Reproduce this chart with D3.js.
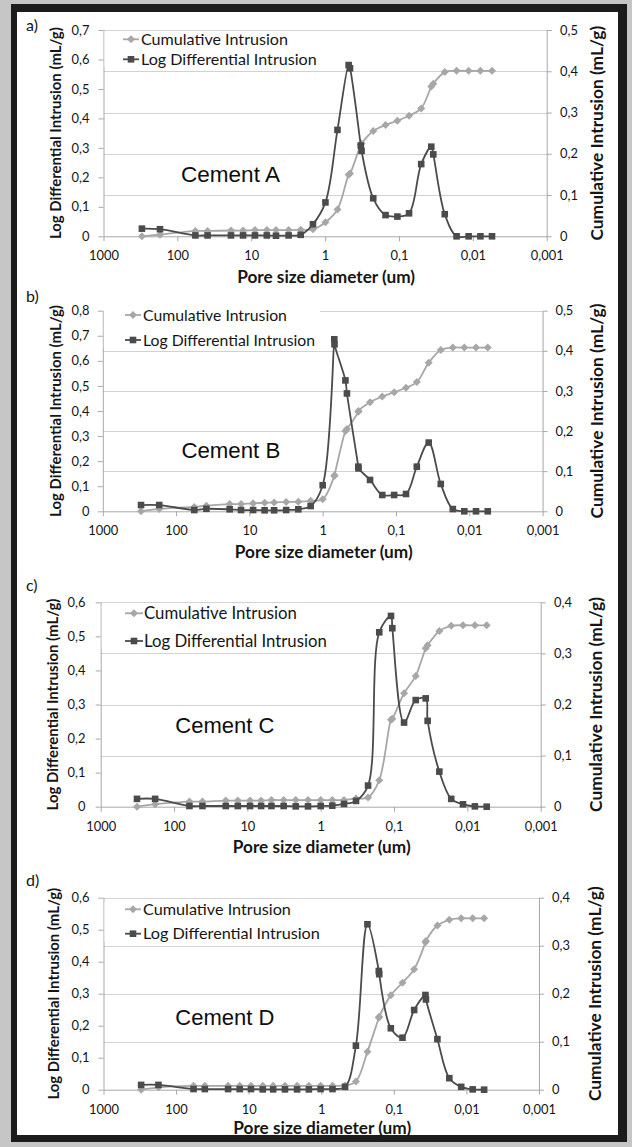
<!DOCTYPE html>
<html><head><meta charset="utf-8">
<script src="https://cdn.jsdelivr.net/npm/d3@7"></script>
<style>html,body{margin:0;padding:0;background:#c6c6c6;} svg{display:block}</style>
</head><body><svg id="c" width="632" height="1147"></svg>
<script>
// ---------- data ----------
const xTickValues = [1000, 100, 10, 1, 0.1, 0.01, 0.001];
const xTickLabels = ["1000", "100", "10", "1", "0,1", "0,01", "0,001"];
const seriesNames = ["Cumulative Intrusion", "Log Differential Intrusion"];
const panelLetters = ["a)", "b)", "c)", "d)"];
const panelTitles = ["Cement A", "Cement B", "Cement C", "Cement D"];
const xAxisTitle = "Pore size diameter (um)";
const leftAxisTitle = "Log Differential Intrusion (mL/g)";
const rightAxisTitle = "Cumulative Intrusion (mL/g)";

const leftTicksA = [0, 0.1, 0.2, 0.3, 0.4, 0.5, 0.6, 0.7];
const rightTicksA = [0, 0.1, 0.2, 0.3, 0.4, 0.5];
const leftTicksB = [0, 0.1, 0.2, 0.3, 0.4, 0.5, 0.6, 0.7, 0.8];
const rightTicksB = [0, 0.1, 0.2, 0.3, 0.4, 0.5];
const leftTicksC = [0, 0.1, 0.2, 0.3, 0.4, 0.5, 0.6];
const rightTicksC = [0, 0.1, 0.2, 0.3, 0.4];
const leftTicksD = [0, 0.1, 0.2, 0.3, 0.4, 0.5, 0.6];
const rightTicksD = [0, 0.1, 0.2, 0.3, 0.4];

// pore size (um), cumulative intrusion (mL/g), log differential intrusion (mL/g)
const poreA = [302, 172, 57, 39, 18.8, 12.9, 8.9, 6.15, 4.62, 3.12, 2.14, 1.46, 0.99, 0.68, 0.48, 0.46, 0.329, 0.321, 0.223, 0.152, 0.105, 0.073, 0.050, 0.0365, 0.0343, 0.024, 0.0166, 0.0114, 0.0079, 0.0055];
const cumA = [0, 0.004, 0.013, 0.013, 0.014, 0.014, 0.015, 0.015, 0.015, 0.015, 0.016, 0.017, 0.034, 0.065, 0.149, 0.152, 0.222, 0.225, 0.255, 0.27, 0.28, 0.292, 0.31, 0.363, 0.37, 0.398, 0.401, 0.401, 0.401, 0.401];
const ldiA = [0.026, 0.024, 0.003, 0.003, 0.003, 0.003, 0.003, 0.003, 0.002, 0.003, 0.005, 0.041, 0.115, 0.361, 0.581, 0.570, 0.308, 0.29, 0.129, 0.072, 0.067, 0.078, 0.245, 0.304, 0.278, 0.075, 0, 0, 0, 0];

const poreB = [301, 170, 56.5, 38.6, 18.6, 13, 8.9, 6.2, 4.6, 3.15, 2.15, 1.46, 1.0, 0.695, 0.69, 0.49, 0.467, 0.327, 0.325, 0.226, 0.154, 0.106, 0.073, 0.052, 0.0358, 0.0245, 0.0168, 0.0117, 0.0081, 0.0056];
const cumB = [0, 0.006, 0.011, 0.014, 0.018, 0.018, 0.02, 0.021, 0.022, 0.023, 0.024, 0.026, 0.030, 0.088, 0.09, 0.2, 0.205, 0.248, 0.25, 0.272, 0.286, 0.297, 0.308, 0.322, 0.370, 0.402, 0.408, 0.408, 0.408, 0.408];
const ldiB = [0.025, 0.025, 0.005, 0.010, 0.008, 0.005, 0.005, 0.004, 0.004, 0.005, 0.008, 0.021, 0.104, 0.686, 0.666, 0.522, 0.470, 0.178, 0.171, 0.125, 0.065, 0.065, 0.069, 0.178, 0.274, 0.109, 0.009, 0, 0, 0];

const poreC = [320, 181, 61.7, 41, 19.7, 13.5, 9.2, 6.5, 4.7, 3.2, 2.19, 1.49, 1.0, 0.695, 0.481, 0.33, 0.226, 0.159, 0.110, 0.1055, 0.073, 0.0506, 0.037, 0.0348, 0.0241, 0.0166, 0.01147, 0.0079, 0.00545];
const cumC = [0, 0.005, 0.01, 0.01, 0.012, 0.012, 0.012, 0.012, 0.013, 0.013, 0.013, 0.013, 0.013, 0.013, 0.013, 0.016, 0.018, 0.052, 0.17, 0.172, 0.222, 0.256, 0.31, 0.316, 0.344, 0.354, 0.355, 0.355, 0.355];
const ldiC = [0.023, 0.023, 0.002, 0.002, 0.002, 0.002, 0.002, 0.002, 0.002, 0.002, 0.001, 0.001, 0.002, 0.003, 0.008, 0.017, 0.062, 0.512, 0.56, 0.524, 0.247, 0.313, 0.318, 0.252, 0.103, 0.023, 0.007, 0.001, 0];

const poreD = [303, 175, 57.5, 40.2, 19.2, 13.3, 9.3, 6.4, 4.6, 3.16, 2.15, 1.48, 1.02, 0.70, 0.47, 0.333, 0.231, 0.161, 0.159, 0.110, 0.076, 0.0525, 0.0367, 0.0361, 0.0251, 0.0172, 0.0118, 0.0082, 0.0057];
const cumD = [0, 0.005, 0.008, 0.008, 0.008, 0.008, 0.008, 0.008, 0.008, 0.008, 0.008, 0.008, 0.008, 0.008, 0.009, 0.017, 0.079, 0.15, 0.152, 0.197, 0.223, 0.251, 0.307, 0.31, 0.342, 0.354, 0.357, 0.357, 0.357];
const ldiD = [0.015, 0.015, 0.002, 0.002, 0.002, 0.002, 0.002, 0.001, 0.001, 0.001, 0.001, 0.001, 0.002, 0.002, 0.009, 0.1375, 0.517, 0.371, 0.361, 0.192, 0.1625, 0.249, 0.296, 0.282, 0.158, 0.036, 0.009, 0.001, 0];

// ---------- layout ----------
const layouts = [
  {x0:103.5, x1:546.7, yTop:30,    yBot:236.3,  letterY:25,    legRows:[39.3,59.3],   legX:[123,139,141], cement:[181,181.7],   tickY:255.3, titleY:276.7, lTitleX:55.6, rTitleX:596.5, lLabR:89.5, rLabL:560, legW:147},
  {x0:102.8, x1:542.6, yTop:310.7, yBot:511.3,  letterY:296.7, legRows:[315,340],     legX:[125,141,143], cement:[181.4,458.3], tickY:530,   titleY:551.7, lTitleX:55.6, rTitleX:596.5, lLabR:89.5, rLabL:555.4, legW:144},
  {x0:100.7, x1:540.7, yTop:602.3, yBot:806.7,  letterY:585,   legRows:[613.3,641],   legX:[125,143,144], cement:[175.3,733.3], tickY:826,   titleY:846.7, lTitleX:52.4, rTitleX:595.7, lLabR:85.5, rLabL:554, legW:153},
  {x0:103.5, x1:539,   yTop:897.7, yBot:1089.7, letterY:880,   legRows:[909.3,933.7], legX:[125,141,143], cement:[175.3,1025],  tickY:1109,  titleY:1127.7,lTitleX:53.6, rTitleX:594.5, lLabR:89.5, rLabL:552, legW:148}
];
const panelData = [
  {pore:poreA, cum:cumA, ldi:ldiA, lt:leftTicksA, rt:rightTicksA},
  {pore:poreB, cum:cumB, ldi:ldiB, lt:leftTicksB, rt:rightTicksB},
  {pore:poreC, cum:cumC, ldi:ldiC, lt:leftTicksC, rt:rightTicksC},
  {pore:poreD, cum:cumD, ldi:ldiD, lt:leftTicksD, rt:rightTicksD}
];

const FONT = "Lato, 'Open Sans', sans-serif";
const DARK = "#4b4b4b", LIGHT = "#a7a7a7", GRID = "#d2d2d2", AXIS = "#a8a8a8", TXT = "#151515";

const svg = d3.select("#c");
// frame
svg.append("rect").attr("x",0).attr("y",0).attr("width",632).attr("height",1147).attr("fill","#c6c6c6");
svg.append("rect").attr("x",11).attr("y",4).attr("width",616).attr("height",1138).attr("fill","#1c1c1c");
svg.append("rect").attr("x",17).attr("y",12).attr("width",601).attr("height",1123).attr("fill","#ffffff");

// measuring helper
const meas = svg.append("text").attr("x",-1000).attr("y",-1000);
function textWidth(str, size, weight, family){
  meas.attr("font-family", family||FONT).attr("font-size", size).attr("font-weight", weight||"normal").text(str);
  return meas.node().getComputedTextLength();
}
function fitSize(str, target, weight, family){ return 20 * target / textWidth(str, 20, weight, family); }

const tickSize = fitSize("1000", 30);
const xTitleSize = fitSize(xAxisTitle, 178, "bold");
const lTitleSize = fitSize(leftAxisTitle, 212, "bold");
const rTitleSize = fitSize(rightAxisTitle, 215, "bold");
const cementFamily = "'Liberation Sans', Arial, sans-serif";

const fmtY = v => v === 0 ? "0" : d3.format(".1f")(v).replace(".", ",");

layouts.forEach((L, i) => {
  const D = panelData[i];
  const g = svg.append("g");
  const x = d3.scaleLog().domain([1000, 0.001]).range([L.x0, L.x1]);
  const yL = d3.scaleLinear().domain([0, D.lt[D.lt.length-1]]).range([L.yBot, L.yTop]);
  const yR = d3.scaleLinear().domain([0, D.rt[D.rt.length-1]]).range([L.yBot, L.yTop]);

  // gridlines (on secondary axis ticks)
  g.append("g").selectAll("line").data(D.rt.filter(v => v > 0)).join("line")
    .attr("x1", L.x0).attr("x2", L.x1)
    .attr("y1", d => Math.round(yR(d))+0.5).attr("y2", d => Math.round(yR(d))+0.5)
    .attr("stroke", GRID).attr("stroke-width", 1);

  // axes
  const styleAxis = sel => {
    sel.selectAll("path,line").attr("stroke", AXIS).attr("stroke-width", 1);
    sel.selectAll("text").attr("fill", TXT).attr("font-family", FONT).attr("font-size", tickSize);
    sel.attr("font-family", null).attr("font-size", null);
  };
  g.append("g").attr("transform", `translate(${L.x0},0)`)
    .call(d3.axisLeft(yL).tickValues(D.lt).tickFormat(fmtY).tickSize(5).tickSizeOuter(0).tickPadding(L.x0 - 5 - L.lLabR))
    .call(styleAxis);
  g.append("g").attr("transform", `translate(${L.x1},0)`)
    .call(d3.axisRight(yR).tickValues(D.rt).tickFormat(fmtY).tickSize(5).tickSizeOuter(0).tickPadding(L.rLabL - L.x1 - 5))
    .call(styleAxis);
  const xa = g.append("g").attr("transform", `translate(0,${L.yBot})`)
    .call(d3.axisBottom(x).tickValues(xTickValues).tickFormat((d, k) => xTickLabels[k]).tickSize(5).tickSizeOuter(0))
    .call(styleAxis);
  xa.selectAll("text").attr("y", L.tickY - L.yBot).attr("dy", "0.35em");

  // series
  const pts = D.pore.map((p, k) => ({p, c: D.cum[k], l: D.ldi[k]}));
  const curve = d3.curveCatmullRom.alpha(0.5);
  g.append("path").datum(pts)
    .attr("d", d3.line().x(d => x(d.p)).y(d => yR(d.c)).curve(curve))
    .attr("fill", "none").attr("stroke", LIGHT).attr("stroke-width", 1.8);
  g.append("g").selectAll("path").data(pts).join("path")
    .attr("transform", d => `translate(${x(d.p)},${yR(d.c)})`)
    .attr("d", "M0,-4L4,0L0,4L-4,0Z").attr("fill", LIGHT);
  g.append("path").datum(pts)
    .attr("d", d3.line().x(d => x(d.p)).y(d => yL(d.l)).curve(curve))
    .attr("fill", "none").attr("stroke", DARK).attr("stroke-width", 1.8);
  g.append("g").selectAll("rect").data(pts).join("rect")
    .attr("x", d => x(d.p) - 3.3).attr("y", d => yL(d.l) - 3.3)
    .attr("width", 6.6).attr("height", 6.6).attr("fill", DARK);

  // legend
  const legSize = fitSize(seriesNames[0], L.legW);
  const legText2W = textWidth(seriesNames[1], legSize);
  g.append("rect").attr("x", L.x0 + 1).attr("y", L.legRows[0] - 8)
    .attr("width", L.legX[2] + legText2W + 4 - L.x0).attr("height", L.legRows[1] - L.legRows[0] + 16)
    .attr("fill", "#fff");
  seriesNames.forEach((name, k) => {
    const yy = L.legRows[k];
    const col = k === 0 ? LIGHT : DARK;
    g.append("line").attr("x1", L.legX[0]).attr("x2", L.legX[1]).attr("y1", yy).attr("y2", yy)
      .attr("stroke", col).attr("stroke-width", 1.8);
    const mx = (L.legX[0] + L.legX[1]) / 2;
    if (k === 0) g.append("path").attr("transform", `translate(${mx},${yy})`).attr("d", "M0,-4L4,0L0,4L-4,0Z").attr("fill", col);
    else g.append("rect").attr("x", mx - 3.3).attr("y", yy - 3.3).attr("width", 6.6).attr("height", 6.6).attr("fill", col);
    g.append("text").attr("x", L.legX[2]).attr("y", yy).attr("dy", "0.35em")
      .attr("font-family", FONT).attr("font-size", legSize).attr("fill", TXT).text(name);
  });

  // cement label
  g.append("text").attr("x", L.cement[0]).attr("y", L.cement[1])
    .attr("font-family", cementFamily).attr("font-size", fitSize(panelTitles[i], 99, "normal", cementFamily))
    .attr("fill", "#0d0d0d").text(panelTitles[i]);

  // panel letter
  g.append("text").attr("x", 26).attr("y", L.letterY).attr("dy", "0.35em")
    .attr("font-family", FONT).attr("font-size", 16).attr("fill", TXT).text(panelLetters[i]);

  // axis titles
  const cy = (L.yTop + L.yBot) / 2;
  g.append("text").attr("x", (L.x0 + L.x1) / 2 + 1).attr("y", L.titleY).attr("dy", "0.35em")
    .attr("text-anchor", "middle").attr("font-family", FONT).attr("font-weight", "bold")
    .attr("font-size", xTitleSize).attr("fill", TXT).text(xAxisTitle);
  g.append("text").attr("transform", `translate(${L.lTitleX},${cy}) rotate(-90)`).attr("dy", "0.35em")
    .attr("text-anchor", "middle").attr("font-family", FONT).attr("font-weight", "bold")
    .attr("font-size", lTitleSize).attr("fill", TXT).text(leftAxisTitle);
  g.append("text").attr("transform", `translate(${L.rTitleX},${cy}) rotate(-90)`).attr("dy", "0.35em")
    .attr("text-anchor", "middle").attr("font-family", FONT).attr("font-weight", "bold")
    .attr("font-size", rTitleSize).attr("fill", TXT).text(rightAxisTitle);
});
meas.remove();
</script>
</body></html>
